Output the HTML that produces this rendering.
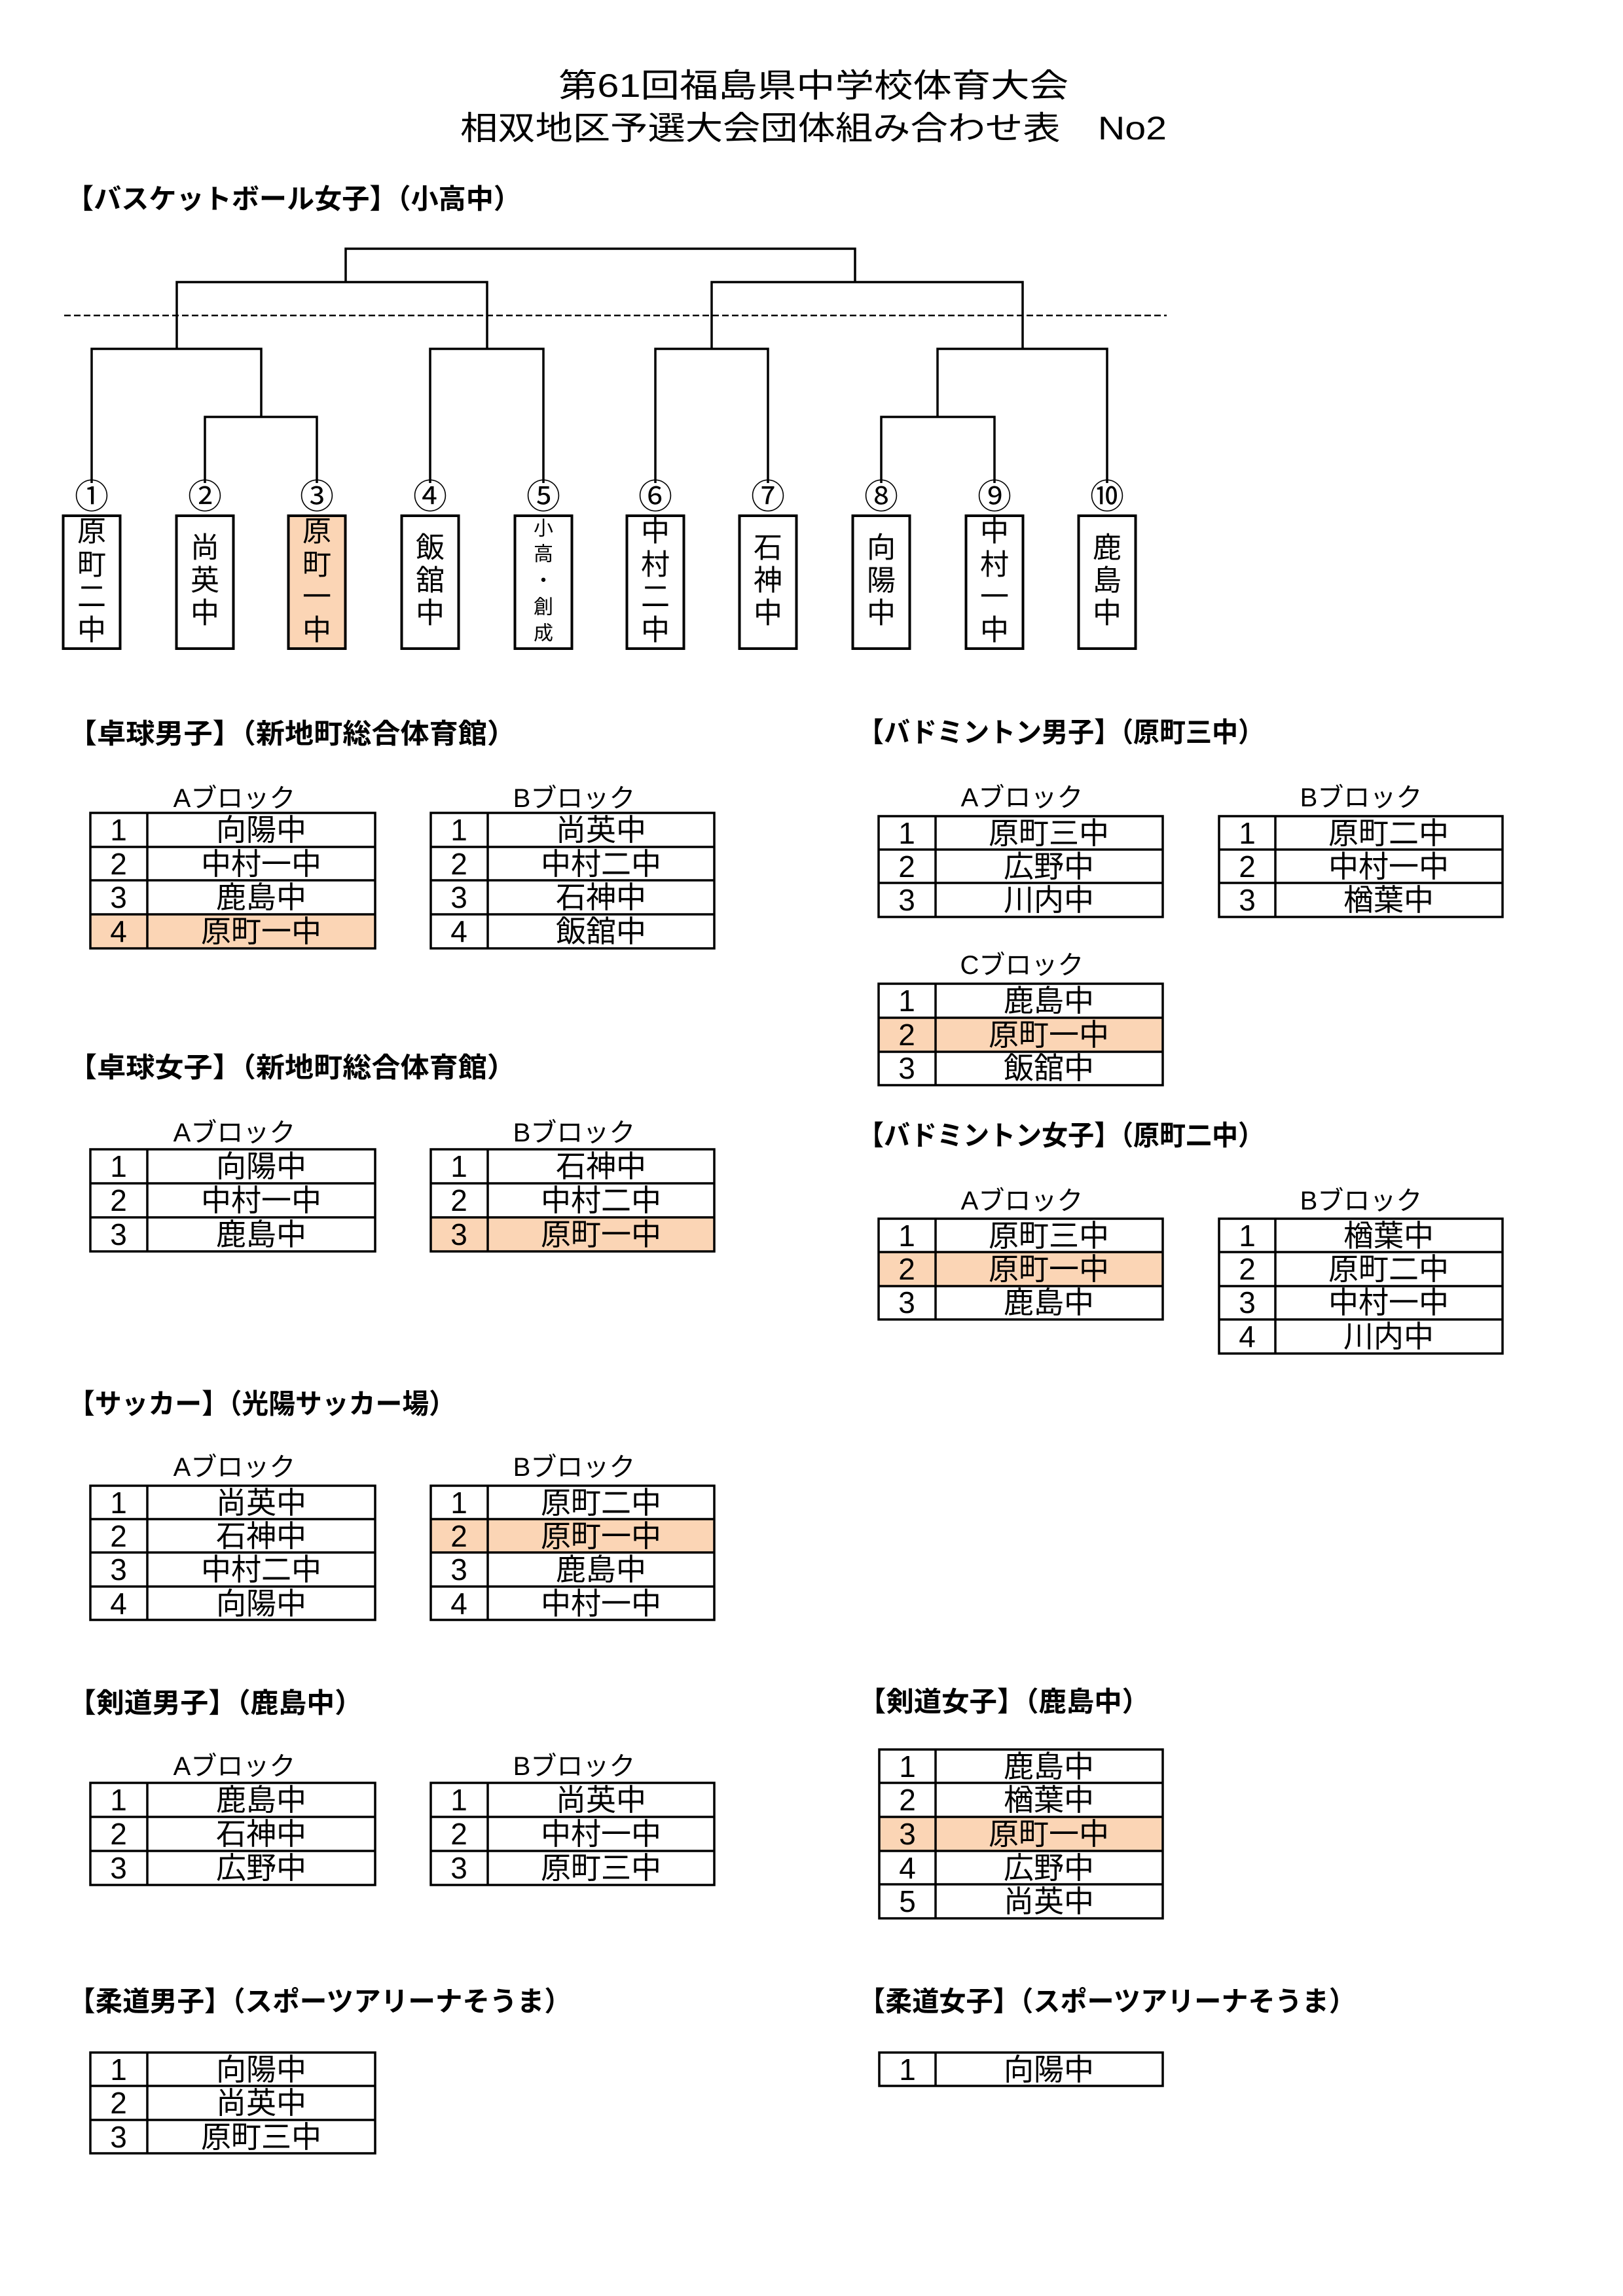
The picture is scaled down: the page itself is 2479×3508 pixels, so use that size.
<!DOCTYPE html>
<html><head><meta charset="utf-8"><style>
html,body{margin:0;padding:0;background:#fff;}
svg{display:block;}
text{font-family:"Liberation Sans","Noto Sans CJK JP",sans-serif;fill:#000;}
.h{font-weight:bold;font-size:42px;}
.lb{font-size:40px;}
.c{font-size:46px;}
.v{font-size:44px;}
</style></head><body>
<svg width="2479" height="3508" viewBox="0 0 2479 3508" xmlns="http://www.w3.org/2000/svg">
<rect width="2479" height="3508" fill="#fff"/>
<text x="853" y="131" dominant-baseline="central" font-size="50" textLength="779" lengthAdjust="spacingAndGlyphs">第61回福島県中学校体育大会</text>
<text x="703" y="196" dominant-baseline="central" font-size="50" textLength="1079" lengthAdjust="spacingAndGlyphs">相双地区予選大会団体組み合わせ表　No2</text>

<g class="h" dominant-baseline="central">
<text x="101" y="304" textLength="695" lengthAdjust="spacingAndGlyphs">【バスケットボール女子】（小高中）</text>
<text x="104" y="1121" textLength="684" lengthAdjust="spacingAndGlyphs">【卓球男子】（新地町総合体育館）</text>
<text x="1310" y="1119" textLength="621" lengthAdjust="spacingAndGlyphs">【バドミントン男子】（原町三中）</text>
<text x="104" y="1631" textLength="684" lengthAdjust="spacingAndGlyphs">【卓球女子】（新地町総合体育館）</text>
<text x="1310" y="1735" textLength="621" lengthAdjust="spacingAndGlyphs">【バドミントン女子】（原町二中）</text>
<text x="104" y="2145" textLength="592" lengthAdjust="spacingAndGlyphs">【サッカー】（光陽サッカー場）</text>
<text x="104" y="2602" textLength="450" lengthAdjust="spacingAndGlyphs">【剣道男子】（鹿島中）</text>
<text x="1311" y="2600" textLength="445" lengthAdjust="spacingAndGlyphs">【剣道女子】（鹿島中）</text>
<text x="104" y="3058" textLength="769" lengthAdjust="spacingAndGlyphs">【柔道男子】（スポーツアリーナそうま）</text>
<text x="1311" y="3058" textLength="760" lengthAdjust="spacingAndGlyphs">【柔道女子】（スポーツアリーナそうま）</text>
</g>

<g stroke="#000" stroke-width="3.5" fill="none">
<path d="M528 431V380H1306V431"/>
<path d="M270 533V431H744V533"/>
<path d="M1087 533V431H1562V533"/>
<path d="M140 738V533H399V637"/>
<path d="M313 738V637H484V738"/>
<path d="M657 738V533H830V738"/>
<path d="M1001 738V533H1173V738"/>
<path d="M1432 637V533H1691V738"/>
<path d="M1346 738V637H1519V738"/>
</g>
<line x1="98" y1="482" x2="1782" y2="482" stroke="#000" stroke-width="2.5" stroke-dasharray="10,5"/>

<g font-size="52" text-anchor="middle" dominant-baseline="central">
<text x="140" y="760">①</text><text x="313" y="760">②</text><text x="484" y="760">③</text><text x="657" y="760">④</text><text x="830" y="760">⑤</text>
<text x="1001" y="760">⑥</text><text x="1173" y="760">⑦</text><text x="1346" y="760">⑧</text><text x="1519" y="760">⑨</text><text x="1691" y="760">⑩</text>
</g>

<g stroke="#000" stroke-width="4">
<rect x="96.5" y="788" width="87" height="203" fill="#fff"/>
<rect x="269.5" y="788" width="87" height="203" fill="#fff"/>
<rect x="440.5" y="788" width="87" height="203" fill="#FBD5B5"/>
<rect x="613.5" y="788" width="87" height="203" fill="#fff"/>
<rect x="786.5" y="788" width="87" height="203" fill="#fff"/>
<rect x="957.5" y="788" width="87" height="203" fill="#fff"/>
<rect x="1129.5" y="788" width="87" height="203" fill="#fff"/>
<rect x="1302.5" y="788" width="87" height="203" fill="#fff"/>
<rect x="1475.5" y="788" width="87" height="203" fill="#fff"/>
<rect x="1647.5" y="788" width="87" height="203" fill="#fff"/>
</g>
<g class="v" text-anchor="middle" dominant-baseline="central">
<text x="140" y="812">原</text><text x="140" y="863">町</text><text x="140" y="912">二</text><text x="140" y="963">中</text>
<text x="313" y="837">尚</text><text x="313" y="887">英</text><text x="313" y="937">中</text>
<text x="484" y="812">原</text><text x="484" y="863">町</text><text x="484" y="912">一</text><text x="484" y="963">中</text>
<text x="657" y="837">飯</text><text x="657" y="887">舘</text><text x="657" y="937">中</text>
<text x="1001" y="812">中</text><text x="1001" y="863">村</text><text x="1001" y="912">二</text><text x="1001" y="963">中</text>
<text x="1173" y="837">石</text><text x="1173" y="887">神</text><text x="1173" y="937">中</text>
<text x="1346" y="837">向</text><text x="1346" y="887">陽</text><text x="1346" y="937">中</text>
<text x="1519" y="812">中</text><text x="1519" y="863">村</text><text x="1519" y="912">一</text><text x="1519" y="963">中</text>
<text x="1691" y="837">鹿</text><text x="1691" y="887">島</text><text x="1691" y="937">中</text>
</g>
<g font-size="30" text-anchor="middle" dominant-baseline="central">
<text x="830" y="808">小</text><text x="830" y="847">高</text><text x="830" y="888">・</text><text x="830" y="928">創</text><text x="830" y="968">成</text>
</g>

<g class="lb" text-anchor="middle" dominant-baseline="central">
<text x="358" y="1220">Aブロック</text><text x="877" y="1220">Bブロック</text>
<text x="1561" y="1219">Aブロック</text><text x="2079" y="1219">Bブロック</text>
<text x="1561" y="1475">Cブロック</text>
<text x="358" y="1731">Aブロック</text><text x="877" y="1731">Bブロック</text>
<text x="1561" y="1835">Aブロック</text><text x="2079" y="1835">Bブロック</text>
<text x="358" y="2242">Aブロック</text><text x="877" y="2242">Bブロック</text>
<text x="358" y="2699">Aブロック</text><text x="877" y="2699">Bブロック</text>
</g>

<g fill="#FBD5B5">
<rect x="138" y="1397" width="435" height="52"/>
<rect x="658" y="1860" width="433" height="52"/>
<rect x="658" y="2321" width="433" height="51"/>
<rect x="1342" y="1555" width="434" height="52"/>
<rect x="1342" y="1913" width="434" height="52"/>
<rect x="1343" y="2776" width="433" height="52"/>
</g>

<g stroke="#000" stroke-width="3.5" fill="none">
<rect x="138" y="1242" width="435" height="207"/><path d="M225 1242V1449M138 1294H573M138 1345H573M138 1397H573"/>
<rect x="658" y="1242" width="433" height="207"/><path d="M745 1242V1449M658 1294H1091M658 1345H1091M658 1397H1091"/>
<rect x="138" y="1756" width="435" height="156"/><path d="M225 1756V1912M138 1808H573M138 1860H573"/>
<rect x="658" y="1756" width="433" height="156"/><path d="M745 1756V1912M658 1808H1091M658 1860H1091"/>
<rect x="138" y="2270" width="435" height="205"/><path d="M225 2270V2475M138 2321H573M138 2372H573M138 2424H573"/>
<rect x="658" y="2270" width="433" height="205"/><path d="M745 2270V2475M658 2321H1091M658 2372H1091M658 2424H1091"/>
<rect x="138" y="2724" width="435" height="156"/><path d="M225 2724V2880M138 2776H573M138 2828H573"/>
<rect x="658" y="2724" width="433" height="156"/><path d="M745 2724V2880M658 2776H1091M658 2828H1091"/>
<rect x="138" y="3136" width="435" height="154"/><path d="M225 3136V3290M138 3187H573M138 3239H573"/>
<rect x="1342" y="1247" width="434" height="154"/><path d="M1429 1247V1401M1342 1298H1776M1342 1349H1776"/>
<rect x="1862" y="1247" width="433" height="154"/><path d="M1948 1247V1401M1862 1298H2295M1862 1349H2295"/>
<rect x="1342" y="1503" width="434" height="155"/><path d="M1429 1503V1658M1342 1555H1776M1342 1607H1776"/>
<rect x="1342" y="1862" width="434" height="154"/><path d="M1429 1862V2016M1342 1913H1776M1342 1965H1776"/>
<rect x="1862" y="1862" width="433" height="206"/><path d="M1948 1862V2068M1862 1913H2295M1862 1965H2295M1862 2016H2295"/>
<rect x="1343" y="2673" width="433" height="258"/><path d="M1429 2673V2931M1343 2724H1776M1343 2776H1776M1343 2828H1776M1343 2879H1776"/>
<rect x="1343" y="3136" width="433" height="51"/><path d="M1429 3136V3187"/>
</g>

<g class="c" text-anchor="middle" dominant-baseline="central">
<text x="181" y="1268">1</text><text x="399" y="1268">向陽中</text>
<text x="181" y="1320">2</text><text x="399" y="1320">中村一中</text>
<text x="181" y="1371">3</text><text x="399" y="1371">鹿島中</text>
<text x="181" y="1423">4</text><text x="399" y="1423">原町一中</text>
<text x="701" y="1268">1</text><text x="918" y="1268">尚英中</text>
<text x="701" y="1320">2</text><text x="918" y="1320">中村二中</text>
<text x="701" y="1371">3</text><text x="918" y="1371">石神中</text>
<text x="701" y="1423">4</text><text x="918" y="1423">飯舘中</text>
<text x="181" y="1782">1</text><text x="399" y="1782">向陽中</text>
<text x="181" y="1834">2</text><text x="399" y="1834">中村一中</text>
<text x="181" y="1886">3</text><text x="399" y="1886">鹿島中</text>
<text x="701" y="1782">1</text><text x="918" y="1782">石神中</text>
<text x="701" y="1834">2</text><text x="918" y="1834">中村二中</text>
<text x="701" y="1886">3</text><text x="918" y="1886">原町一中</text>
<text x="181" y="2296">1</text><text x="399" y="2296">尚英中</text>
<text x="181" y="2347">2</text><text x="399" y="2347">石神中</text>
<text x="181" y="2398">3</text><text x="399" y="2398">中村二中</text>
<text x="181" y="2450">4</text><text x="399" y="2450">向陽中</text>
<text x="701" y="2296">1</text><text x="918" y="2296">原町二中</text>
<text x="701" y="2347">2</text><text x="918" y="2347">原町一中</text>
<text x="701" y="2398">3</text><text x="918" y="2398">鹿島中</text>
<text x="701" y="2450">4</text><text x="918" y="2450">中村一中</text>
<text x="181" y="2750">1</text><text x="399" y="2750">鹿島中</text>
<text x="181" y="2802">2</text><text x="399" y="2802">石神中</text>
<text x="181" y="2854">3</text><text x="399" y="2854">広野中</text>
<text x="701" y="2750">1</text><text x="918" y="2750">尚英中</text>
<text x="701" y="2802">2</text><text x="918" y="2802">中村一中</text>
<text x="701" y="2854">3</text><text x="918" y="2854">原町三中</text>
<text x="181" y="3162">1</text><text x="399" y="3162">向陽中</text>
<text x="181" y="3213">2</text><text x="399" y="3213">尚英中</text>
<text x="181" y="3265">3</text><text x="399" y="3265">原町三中</text>
<text x="1385" y="1273">1</text><text x="1602" y="1273">原町三中</text>
<text x="1385" y="1324">2</text><text x="1602" y="1324">広野中</text>
<text x="1385" y="1375">3</text><text x="1602" y="1375">川内中</text>
<text x="1905" y="1273">1</text><text x="2121" y="1273">原町二中</text>
<text x="1905" y="1324">2</text><text x="2121" y="1324">中村一中</text>
<text x="1905" y="1375">3</text><text x="2121" y="1375">楢葉中</text>
<text x="1385" y="1529">1</text><text x="1602" y="1529">鹿島中</text>
<text x="1385" y="1581">2</text><text x="1602" y="1581">原町一中</text>
<text x="1385" y="1632">3</text><text x="1602" y="1632">飯舘中</text>
<text x="1385" y="1888">1</text><text x="1602" y="1888">原町三中</text>
<text x="1385" y="1939">2</text><text x="1602" y="1939">原町一中</text>
<text x="1385" y="1990">3</text><text x="1602" y="1990">鹿島中</text>
<text x="1905" y="1888">1</text><text x="2121" y="1888">楢葉中</text>
<text x="1905" y="1939">2</text><text x="2121" y="1939">原町二中</text>
<text x="1905" y="1990">3</text><text x="2121" y="1990">中村一中</text>
<text x="1905" y="2042">4</text><text x="2121" y="2042">川内中</text>
<text x="1386" y="2699">1</text><text x="1602" y="2699">鹿島中</text>
<text x="1386" y="2750">2</text><text x="1602" y="2750">楢葉中</text>
<text x="1386" y="2802">3</text><text x="1602" y="2802">原町一中</text>
<text x="1386" y="2854">4</text><text x="1602" y="2854">広野中</text>
<text x="1386" y="2905">5</text><text x="1602" y="2905">尚英中</text>
<text x="1386" y="3162">1</text><text x="1602" y="3162">向陽中</text>
</g>
</svg>
</body></html>
